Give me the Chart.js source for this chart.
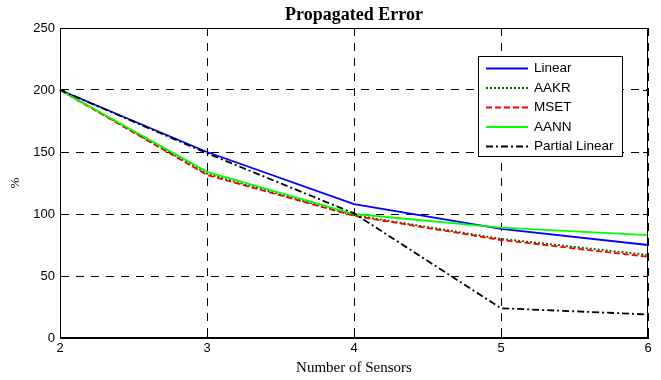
<!DOCTYPE html>
<html>
<head>
<meta charset="utf-8">
<script src="https://cdn.jsdelivr.net/npm/chart.js@4.4.0/dist/chart.umd.min.js"></script>
<style>
  html, body { margin: 0; padding: 0; background: #fff; }
  #wrap { width: 661px; height: 380px; }
</style>
</head>
<body>
<div id="wrap"><canvas id="errorChart" width="661" height="380"></canvas></div>
<script>
// Datos
const sensors = ['2', '3', '4', '5', '6'];
const linear = [200, 150, 108, 88, 75];
const aakr = [200, 132.5, 99, 80, 67];
const mset = [200, 131.5, 98.5, 79, 65.5];
const aann = [200, 134, 100, 89, 83];
const partialLinear = [200, 149, 100.5, 24, 19];
const yTicks = [0, 50, 100, 150, 200, 250];

const tickFont = { family: '"Liberation Sans", Arial, sans-serif', size: 13 };

// Caja, marcas interiores y leyenda al estilo MATLAB
const matlabBox = {
  id: 'matlabBox',
  afterDraw(chart) {
    const { ctx, chartArea: a, scales } = chart;
    ctx.save();
    ctx.strokeStyle = '#000';
    ctx.lineWidth = 1;
    ctx.setLineDash([]);
    ctx.strokeRect(a.left + 0.5, a.top + 0.5, a.right - a.left - 1, a.bottom - a.top - 1);
    // marcas hacia dentro
    const len = 5;
    ctx.beginPath();
    scales.x.ticks.forEach((t, i) => {
      const px = Math.round(scales.x.getPixelForTick(i)) + 0.5;
      ctx.moveTo(px, a.bottom); ctx.lineTo(px, a.bottom - len);
      ctx.moveTo(px, a.top); ctx.lineTo(px, a.top + len);
    });
    scales.y.ticks.forEach(t => {
      const py = Math.round(scales.y.getPixelForValue(t.value)) + 0.5;
      ctx.moveTo(a.left, py); ctx.lineTo(a.left + len, py);
      ctx.moveTo(a.right, py); ctx.lineTo(a.right - len, py);
    });
    ctx.stroke();

    // leyenda
    const bx = a.right - 170, by = a.top + 28, bw = 144, bh = 100;
    ctx.fillStyle = '#fff';
    ctx.fillRect(bx, by, bw, bh);
    ctx.strokeRect(bx + 0.5, by + 0.5, bw, bh);
    ctx.font = '13.5px "Liberation Sans", Arial, sans-serif';
    ctx.textBaseline = 'middle';
    chart.data.datasets.forEach((ds, i) => {
      const y = by + 12.5 + i * 19.5;
      ctx.save();
      ctx.strokeStyle = ds.borderColor;
      ctx.lineWidth = ds.borderWidth;
      ctx.setLineDash(ds.borderDash || []);
      ctx.beginPath();
      ctx.moveTo(bx + 8, y); ctx.lineTo(bx + 50, y);
      ctx.stroke();
      ctx.restore();
      ctx.fillStyle = '#000';
      ctx.fillText(ds.label, bx + 56, y);
    });
    ctx.restore();
  }
};

const ctx = document.getElementById('errorChart').getContext('2d');
const errorChart = new Chart(ctx, {
  type: 'line',
  data: {
    labels: sensors,
    datasets: [
      { label: 'Linear', data: linear, borderColor: '#0000ff', borderWidth: 1.8, order: 5 },
      { label: 'AAKR', data: aakr, borderColor: '#006400', borderWidth: 1.8, borderDash: [2, 2], order: 4 },
      { label: 'MSET', data: mset, borderColor: '#ff0000', borderWidth: 1.8, borderDash: [6, 3], order: 3 },
      { label: 'AANN', data: aann, borderColor: '#00ff00', borderWidth: 1.8, order: 2 },
      { label: 'Partial Linear', data: partialLinear, borderColor: '#000000', borderWidth: 1.8, borderDash: [7, 3, 2, 3], order: 1 }
    ]
  },
  options: {
    responsive: false,
    animation: false,
    layout: { padding: { top: 0, right: 13, left: 0, bottom: 0 } },
    elements: {
      point: { radius: 0 },
      line: { tension: 0, fill: false }
    },
    plugins: {
      legend: { display: false },
      tooltip: { enabled: false },
      title: {
        display: true,
        text: 'Propagated Error',
        fullSize: false,
        color: '#000',
        font: { family: '"Liberation Serif", "Times New Roman", serif', size: 18, weight: 'bold' },
        padding: { top: 5, bottom: 1.4 }
      }
    },
    scales: {
      x: {
        offset: false,
        afterFit(scale) { scale.height = 42; },
        grid: { color: '#000', lineWidth: 1, drawTicks: false },
        border: { display: true, color: '#000', dash: [8, 7] },
        ticks: { color: '#000', font: tickFont, padding: 3, maxRotation: 0 },
        title: {
          display: true,
          text: 'Number of Sensors',
          color: '#000',
          font: { family: '"Liberation Serif", "Times New Roman", serif', size: 15 },
          padding: { top: 0, bottom: 3 }
        }
      },
      y: {
        min: 0,
        max: 250,
        afterFit(scale) { scale.width = 60; },
        afterBuildTicks(scale) { scale.ticks = yTicks.map(v => ({ value: v })); },
        grid: { color: '#000', lineWidth: 1, drawTicks: false },
        border: { display: true, color: '#000', dash: [8, 7] },
        ticks: { color: '#000', font: tickFont, padding: 5 },
        title: {
          display: true,
          text: '%',
          color: '#000',
          font: { family: '"Liberation Serif", "Times New Roman", serif', size: 13 },
          padding: { top: 8, bottom: 0 }
        }
      }
    }
  },
  plugins: [matlabBox]
});
</script>
</body>
</html>
